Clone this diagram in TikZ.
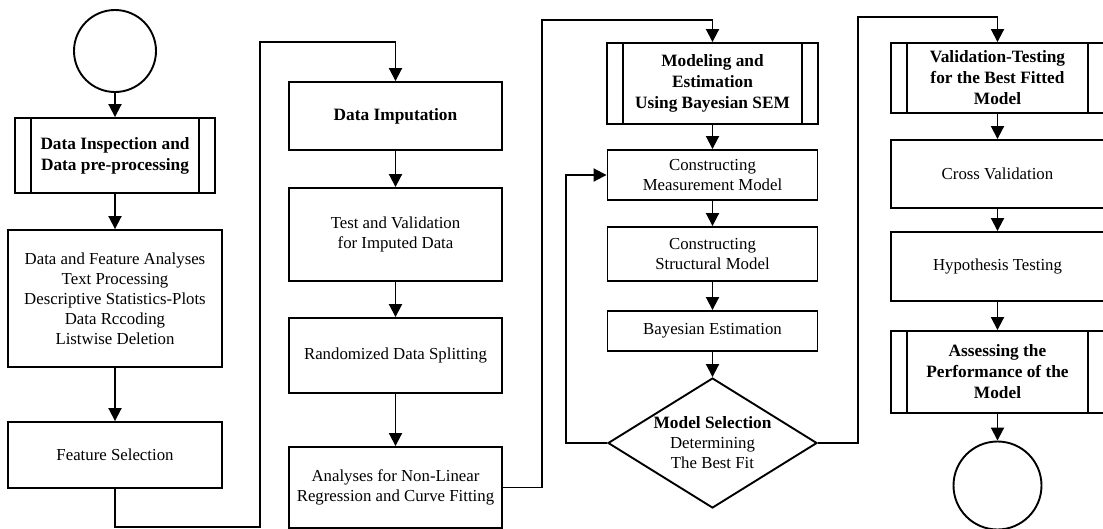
\documentclass[tikz,border=0pt]{standalone}
\usepackage{fontspec}
\setmainfont{Liberation Serif}
\usetikzlibrary{arrows.meta,shapes.geometric}

\begin{document}
\begin{tikzpicture}[x=1pt,y=-1pt,
  line width=1.9pt,
  txt/.style={font=\fontsize{16.8}{20}\selectfont, align=center},
  box/.style={draw, txt, inner sep=0pt},
  subproc/.style={box, font=\bfseries\fontsize{17.3}{21}\selectfont,
    path picture={\draw[line width=1.9pt]
      ([xshift=16pt]path picture bounding box.north west) -- ([xshift=16pt]path picture bounding box.south west)
      ([xshift=-16pt]path picture bounding box.north east) -- ([xshift=-16pt]path picture bounding box.south east);}},
  term/.style={draw, circle, inner sep=0pt},
  decision/.style={draw, diamond, inner sep=0pt},
  flow/.style={-{Triangle[length=13pt,width=13pt]}},
]
\clip (0,0) rectangle (1103,528);

% first column: preparation
\node[term, minimum size=82pt] (start) at (115,51) {};
\node[subproc, minimum width=200pt, minimum height=75pt] (inspect) at (115,155.5)
  {Data Inspection and\\Data pre-processing};
\node[box, minimum width=214pt, minimum height=137pt] (analyses) at (115,298.5)
  {Data and Feature Analyses\\Text Processing\\Descriptive Statistics-Plots\\Data Rccoding\\Listwise Deletion};
\node[box, minimum width=214pt, minimum height=66pt] (featsel) at (115,455) {Feature Selection};

% second column: imputation and splitting
\node[box, font=\bfseries\fontsize{17.3}{20}\selectfont, minimum width=213pt, minimum height=68pt] (impute) at (395.5,116) {Data Imputation};
\node[box, minimum width=213pt, minimum height=93pt] (testval) at (395.5,234.5) {Test and Validation\\for Imputed Data};
\node[box, minimum width=213pt, minimum height=75pt] (split) at (395.5,355.5) {Randomized Data Splitting};
\node[box, minimum width=213pt, minimum height=81pt] (nonlin) at (395.5,487.5) {Analyses for Non-Linear\\Regression and Curve Fitting};

% third column: Bayesian SEM
\node[subproc, minimum width=211pt, minimum height=81pt] (model) at (712.5,83.5)
  {Modeling and\\Estimation\\Using Bayesian SEM};
\node[box, minimum width=210pt, minimum height=50pt] (measure) at (712.5,175) {Constructing\\Measurement Model};
\node[box, minimum width=210pt, minimum height=54pt] (struct) at (712.5,254) {Constructing\\Structural Model};
\node[box, minimum width=210pt, minimum height=40pt] (bayes) at (712.5,331) {Bayesian Estimation};
\node[decision, minimum width=209pt, minimum height=130pt] (sel) at (712.5,443) {};
\node[txt] (seltext) at (712.5,443) {{\bfseries\fontsize{17.3}{20}\selectfont Model Selection}\\Determining\\The Best Fit};

% fourth column: validation
\node[subproc, minimum width=213pt, minimum height=70pt] (valid) at (997.5,78)
  {Validation-Testing\\for the Best Fitted\\Model};
\node[box, minimum width=213pt, minimum height=68pt] (cross) at (997.5,174) {Cross Validation};
\node[box, minimum width=213pt, minimum height=69pt] (hypo) at (997.5,266.5) {Hypothesis Testing};
\node[subproc, minimum width=213pt, minimum height=82pt] (assess) at (997.5,372)
  {Assessing the\\Performance of the\\Model};
\node[term, minimum size=88pt] (stop) at (997.5,485.5) {};

% routing points of the long connectors
\coordinate (r1) at (260,527);
\coordinate (r2) at (260,42);
\coordinate (r3) at (542,20);
\coordinate (r4) at (566,175);
\coordinate (r5) at (858,17);

% connectors
\draw[flow] (start) -- (inspect);
\draw[flow] (inspect) -- (analyses);
\draw[flow] (analyses) -- (featsel);
\draw[flow] (featsel.south) |- (r1) -- (r2) -| (impute.north);

\draw[flow] (impute) -- (testval);
\draw[flow] (testval) -- (split);
\draw[flow] (split) -- (nonlin);
\draw[flow] (nonlin.east) -| (r3) -| (model.north);

\draw[flow] (model) -- (measure);
\draw[flow] (measure) -- (struct);
\draw[flow] (struct) -- (bayes);
\draw[flow] (bayes) -- (sel);
\draw[flow] (sel.west) -| (r4) -- (measure.west);
\draw[flow] (sel.east) -| (r5) -| (valid.north);

\draw[flow] (valid) -- (cross);
\draw[flow] (cross) -- (hypo);
\draw[flow] (hypo) -- (assess);
\draw[flow] (assess) -- (stop);
\end{tikzpicture}
\end{document}
